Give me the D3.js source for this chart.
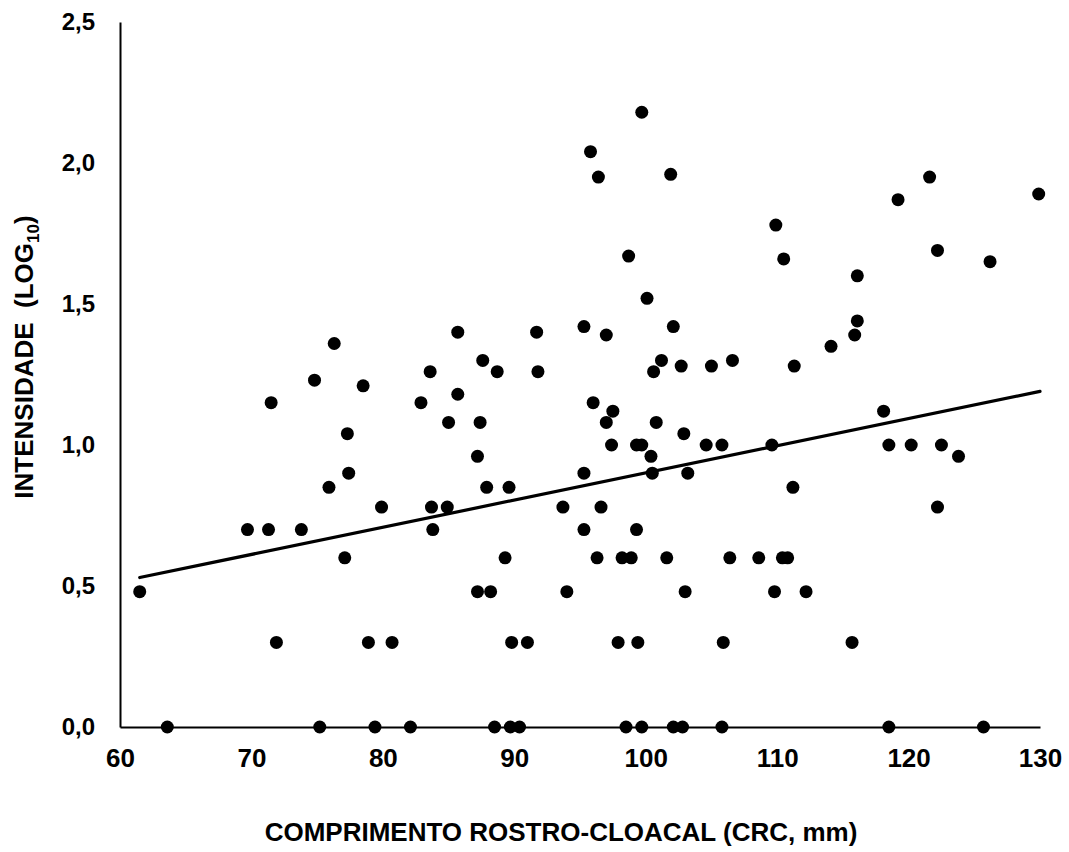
<!DOCTYPE html>
<html>
<head>
<meta charset="utf-8">
<script src="https://cdn.jsdelivr.net/npm/d3@7"></script>
<style>
  body { margin: 0; background: #fff; }
  text { font-family: Arial, "Liberation Sans", sans-serif; font-weight: bold; fill: #000; }
</style>
</head>
<body>
<div class="chart"></div>
<script>
// CRC (mm) and intensity (log10)
var crc = [
  61.5, 63.6, 69.7, 71.3, 71.5, 71.9, 73.8, 74.8, 75.2, 75.9, 76.3, 77.1, 77.3, 77.4,
  78.5, 78.9, 79.4, 79.9, 80.7, 82.1, 82.9, 83.6, 83.7, 83.8, 84.9, 85.0, 85.7, 85.7,
  99.7, 95.8, 96.4, 101.9, 98.7, 100.1, 91.7, 95.3, 97.0, 102.1, 87.6, 88.7, 91.8, 101.2,
  100.6, 102.7, 105.0, 106.6, 96.0, 97.5, 87.4, 97.0, 100.8, 102.9, 87.2, 97.4, 99.3, 99.7,
  100.4, 104.6, 105.8, 95.3, 100.5, 103.2, 87.9, 89.6, 93.7, 96.6, 95.3, 99.3, 89.3, 96.3,
  98.2, 98.9, 101.6, 106.4, 108.6, 87.2, 88.2, 94.0, 103.0, 89.8, 91.0, 97.9, 99.4, 105.9,
  88.5, 89.7, 90.4, 98.5, 99.7, 102.1, 102.8, 105.8,
  109.9, 110.5, 121.6, 119.2, 129.9, 122.2, 126.2, 116.1, 116.1, 115.9, 114.1, 111.3,
  118.1, 109.6, 118.5, 120.2, 122.5, 123.8, 111.2, 122.2, 110.4, 110.8, 109.8, 112.2,
  115.7, 118.5, 125.7
];
var intensidade = [
  0.48, 0, 0.70, 0.70, 1.15, 0.30, 0.70, 1.23, 0, 0.85, 1.36, 0.60, 1.04, 0.90,
  1.21, 0.30, 0, 0.78, 0.30, 0, 1.15, 1.26, 0.78, 0.70, 0.78, 1.08, 1.40, 1.18,
  2.18, 2.04, 1.95, 1.96, 1.67, 1.52, 1.40, 1.42, 1.39, 1.42, 1.30, 1.26, 1.26, 1.30,
  1.26, 1.28, 1.28, 1.30, 1.15, 1.12, 1.08, 1.08, 1.08, 1.04, 0.96, 1.00, 1.00, 1.00,
  0.96, 1.00, 1.00, 0.90, 0.90, 0.90, 0.85, 0.85, 0.78, 0.78, 0.70, 0.70, 0.60, 0.60,
  0.60, 0.60, 0.60, 0.60, 0.60, 0.48, 0.48, 0.48, 0.48, 0.30, 0.30, 0.30, 0.30, 0.30,
  0, 0, 0, 0, 0, 0, 0, 0,
  1.78, 1.66, 1.95, 1.87, 1.89, 1.69, 1.65, 1.60, 1.44, 1.39, 1.35, 1.28,
  1.12, 1.00, 1.00, 1.00, 1.00, 0.96, 0.85, 0.78, 0.60, 0.60, 0.48, 0.48,
  0.30, 0, 0
];

// trend line end points
var trendX = [61.5, 130];
var trendY = [0.53, 1.19];

var xTicks = [60, 70, 80, 90, 100, 110, 120, 130];
var yTicks = [0, 0.5, 1.0, 1.5, 2.0, 2.5];

var svgWidth = 1069;
var svgHeight = 852;

var margin = { top: 22, right: 29, bottom: 125, left: 120 };
var width = svgWidth - margin.left - margin.right;
var height = svgHeight - margin.top - margin.bottom;

var svg = d3.select(".chart")
  .append("svg")
  .attr("width", svgWidth)
  .attr("height", svgHeight);

var chartGroup = svg.append("g")
  .attr("transform", `translate(${margin.left}, ${margin.top})`);

var xScale = d3.scaleLinear().domain([60, 130]).range([0, width]);
var yScale = d3.scaleLinear().domain([0, 2.5]).range([height, 0]);

var comma = d => d3.format(".1f")(d).replace(".", ",");

var bottomAxis = d3.axisBottom(xScale)
  .tickValues(xTicks)
  .tickSize(0)
  .tickPadding(22);

var leftAxis = d3.axisLeft(yScale)
  .tickValues(yTicks)
  .tickFormat(comma)
  .tickSize(0)
  .tickPadding(25);

var xAxisG = chartGroup.append("g")
  .attr("transform", `translate(0, ${height})`)
  .call(bottomAxis);

var yAxisG = chartGroup.append("g")
  .call(leftAxis);

[xAxisG, yAxisG].forEach(function (g) {
  g.select(".domain").attr("stroke", "#000").attr("stroke-width", 2);
  g.selectAll("text")
    .attr("font-family", "Arial, 'Liberation Sans', sans-serif")
    .attr("font-weight", "bold")
    .attr("fill", "#000");
});
xAxisG.selectAll("text").attr("font-size", 26);
yAxisG.selectAll("text").attr("font-size", 24);

var line = d3.line()
  .x(d => xScale(d[0]))
  .y(d => yScale(d[1]));

chartGroup.append("path")
  .datum(d3.zip(trendX, trendY))
  .attr("d", line)
  .attr("fill", "none")
  .attr("stroke", "#000")
  .attr("stroke-width", 3.2)
  .attr("stroke-linecap", "round");

var points = d3.zip(crc, intensidade);

chartGroup.selectAll("circle")
  .data(points)
  .enter()
  .append("circle")
  .attr("cx", d => xScale(d[0]))
  .attr("cy", d => yScale(d[1]))
  .attr("r", 6.5)
  .attr("fill", "#000");

// axis titles
svg.append("text")
  .attr("x", 561)
  .attr("y", 841)
  .attr("text-anchor", "middle")
  .attr("font-size", 26)
  .text("COMPRIMENTO ROSTRO-CLOACAL (CRC, mm)");

var yTitle = svg.append("text")
  .attr("transform", "translate(33, 357) rotate(-90)")
  .attr("text-anchor", "middle")
  .attr("font-size", 26)
  .style("white-space", "pre");

yTitle.append("tspan").text("INTENSIDADE  (LOG");
yTitle.append("tspan").attr("font-size", 17).attr("dy", 6).text("10");
yTitle.append("tspan").attr("dy", -6).text(")");
</script>
</body>
</html>
